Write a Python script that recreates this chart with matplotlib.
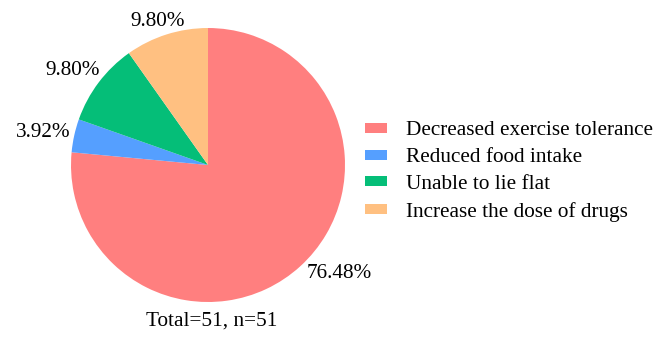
import matplotlib
matplotlib.use("Agg")
import matplotlib.pyplot as plt

plt.rcParams["font.family"] = ["Liberation Serif", "DejaVu Serif"]

FONT_SIZE = 15.3

# データ
categories = [
    "Decreased exercise tolerance",
    "Reduced food intake",
    "Unable to lie flat",
    "Increase the dose of drugs",
]
percents = [76.48, 3.92, 9.80, 9.80]
pct_labels = ["76.48%", "3.92%", "9.80%", "9.80%"]
colors = ["#FF7F7F", "#559FFF", "#05BE78", "#FFC081"]
# ラベル位置 (半径1の単位)
label_pos = [(0.96, -0.79), (-1.20, 0.24), (-0.99, 0.69), (-0.37, 1.05)]

fig = plt.figure(figsize=(6.67, 3.39), dpi=100)
ax = fig.add_axes([0.0551, 0.0081, 0.5135, 1.0103])

wedges, texts = ax.pie(
    percents,
    labels=pct_labels,
    colors=colors,
    startangle=90,
    counterclock=False,
    textprops={"fontsize": FONT_SIZE},
)
for t, (x, y) in zip(texts, label_pos):
    t.set_position((x, y))
    t.set_ha("center")
    t.set_va("center")

ax.set_xlim(-1.25, 1.25)
ax.set_ylim(-1.25, 1.25)
ax.set_aspect("equal")

ax.text(0.03, -1.14, "Total=51, n=51", fontsize=FONT_SIZE, ha="center", va="center")

fig.legend(
    wedges,
    categories,
    loc="center left",
    bbox_to_anchor=(0.547, 0.494),
    frameon=False,
    fontsize=FONT_SIZE,
    handlelength=1.04,
    handleheight=0.35,
    handletextpad=0.9,
    labelspacing=0.37,
    borderpad=0,
    borderaxespad=0,
)

fig.savefig("out.png", dpi=100)
